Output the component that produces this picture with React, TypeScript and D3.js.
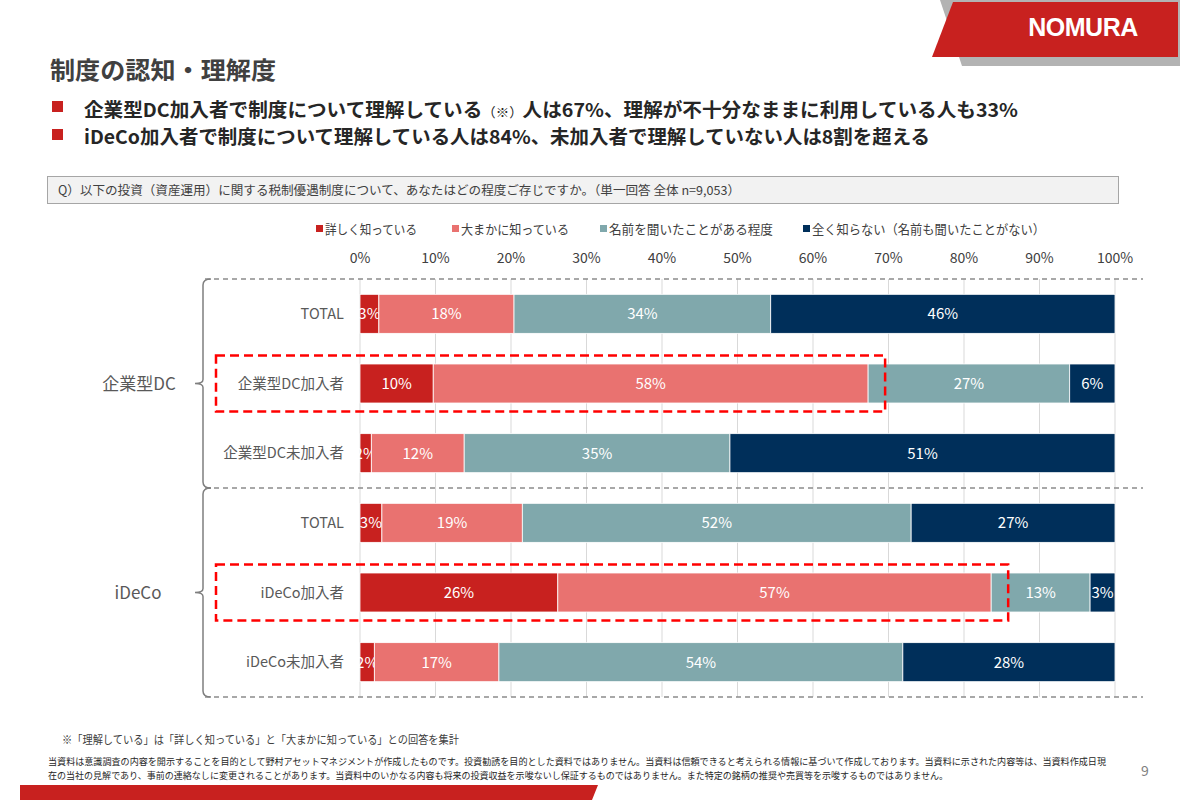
import React from "react";
import * as d3 from "d3";

const rowLabels = ["TOTAL", "企業型DC加入者", "企業型DC未加入者", "TOTAL", "iDeCo加入者", "iDeCo未加入者"];
const groupLabels = ["企業型DC", "iDeCo"];
const seriesNames = ["詳しく知っている", "大まかに知っている", "名前を聞いたことがある程度", "全く知らない（名前も聞いたことがない）"];
const seriesColors = ["#c8211f", "#e97270", "#80a8ac", "#002f5a"];
const detailed = [2.5, 9.7, 1.5, 2.9, 26.2, 1.9];
const rough = [17.9, 57.6, 12.3, 18.6, 57.4, 16.5];
const heard = [34.0, 26.7, 35.2, 51.5, 13.1, 53.5];
const unaware = [45.6, 6.0, 51.0, 27.0, 3.3, 28.1];
const tickValues = [0, 10, 20, 30, 40, 50, 60, 70, 80, 90, 100];
const highlightRows = [1, 4];

const FONT = "'Noto Sans CJK JP', 'Noto Sans', sans-serif";

export default function App() {
  const keys = ["d", "r", "h", "u"];
  const table = rowLabels.map((_, i) => ({ idx: String(i), d: detailed[i], r: rough[i], h: heard[i], u: unaware[i] }));
  const stacked = d3.stack<any>().keys(keys)(table);

  const x = d3.scaleLinear().domain([0, 100]).range([360, 1115]);
  const y = d3.scaleBand<string>().domain(table.map((t) => t.idx)).range([279, 697]).paddingInner(0.44).paddingOuter(0.22);
  const step = y.step();
  const top = 279;
  const bottom = 697;
  const mid = top + step * 3;

  const bracket = (y0: number, y1: number) => {
    const xm = 203;
    const ym = (y0 + y1) / 2;
    return `M${xm + 8},${y0} Q${xm},${y0} ${xm},${y0 + 6} L${xm},${ym - 4} Q${xm},${ym} ${xm - 8},${ym} Q${xm},${ym} ${xm},${ym + 4} L${xm},${y1 - 6} Q${xm},${y1} ${xm + 8},${y1}`;
  };

  const legendX = [316, 452, 600, 803];
  const legendW = [92, 108, 164, 233];

  return (
    <svg width={1200} height={800} style={{ position: "absolute", left: 0, top: 0, background: "#fff" }} fontFamily={FONT}>
      <rect x={0} y={0} width={1200} height={800} fill="#fff" />
      {/* logo */}
      <polygon points="940,0 1180,0 1180,66 962,66" fill="#b3b3b3" />
      <polygon points="953,2 1178,2 1178,57 932,57" fill="#c8211f" />
      <text x={1083} y={36} fill="#fff" fontSize={25} fontWeight={700} textAnchor="middle" fontFamily="'Liberation Sans', Arial, sans-serif" letterSpacing={-0.5}>NOMURA</text>

      {/* title */}
      <text x={50} y={79} fontSize={24} fontWeight={700} fill="#404040" textLength={226} lengthAdjust="spacingAndGlyphs">制度の認知・理解度</text>
      <rect x={52} y={101} width={11} height={11} fill="#c8211f" />
      <text x={84} y={117} fontSize={19} fontWeight={700} fill="#262626" textLength={934} lengthAdjust="spacingAndGlyphs">
        企業型DC加入者で制度について理解している<tspan fontSize={13} fontWeight={400}>（※）</tspan>人は67%、理解が不十分なままに利用している人も33%
      </text>
      <rect x={52} y={129} width={11} height={11} fill="#c8211f" />
      <text x={84} y={144} fontSize={19} fontWeight={700} fill="#262626" textLength={846} lengthAdjust="spacingAndGlyphs">
        iDeCo加入者で制度について理解している人は84%、未加入者で理解していない人は8割を超える
      </text>

      {/* question box */}
      <rect x={47.5} y={176.5} width={1071} height={27} fill="#f2f2f2" stroke="#a6a6a6" strokeWidth={1} />
      <text x={58} y={195} fontSize={12.5} fill="#404040" textLength={682} lengthAdjust="spacingAndGlyphs">
        Q）以下の投資（資産運用）に関する税制優遇制度について、あなたはどの程度ご存じですか。（単一回答 全体 n=9,053）
      </text>

      {/* legend */}
      {seriesNames.map((name, i) => (
        <g key={name}>
          <rect x={legendX[i]} y={225} width={7} height={7} fill={seriesColors[i]} />
          <text x={legendX[i] + 9} y={234} fontSize={13} fill="#404040" textLength={legendW[i]} lengthAdjust="spacingAndGlyphs">{name}</text>
        </g>
      ))}

      {/* axis tick labels */}
      {tickValues.map((t) => (
        <text key={t} x={x(t)} y={263} fontSize={14} fill="#404040" textAnchor="middle">{t}%</text>
      ))}

      {/* gridlines */}
      {tickValues.map((t) => (
        <line key={"g" + t} x1={x(t)} x2={x(t)} y1={top} y2={bottom} stroke="#d9d9d9" strokeWidth={1} />
      ))}

      {/* dashed separators */}
      {[top, mid, bottom].map((yy, i) => (
        <line key={"s" + i} x1={205} x2={1143} y1={yy} y2={yy} stroke="#8c8c8c" strokeWidth={1.5} strokeDasharray="5,4" />
      ))}

      {/* brackets */}
      <path d={bracket(top, mid)} fill="none" stroke="#7f7f7f" strokeWidth={1.5} />
      <path d={bracket(mid, bottom)} fill="none" stroke="#7f7f7f" strokeWidth={1.5} />
      <text x={139} y={(top + mid) / 2 + 6} fontSize={17} fill="#595959" textAnchor="middle">{groupLabels[0]}</text>
      <text x={138} y={(mid + bottom) / 2 + 6} fontSize={17} fill="#595959" textAnchor="middle">{groupLabels[1]}</text>

      {/* row labels */}
      {table.map((t, i) => (
        <text key={"l" + i} x={344} y={(y(t.idx) as number) + y.bandwidth() / 2 + 5} fontSize={14.5} fill="#595959" textAnchor="end">{rowLabels[i]}</text>
      ))}

      {/* bars */}
      {stacked.map((layer, li) => (
        <g key={layer.key}>
          {layer.map((seg, i) => {
            const y0 = y(String(i)) as number;
            const x0 = x(seg[0]);
            const x1 = x(seg[1]);
            return (
              <g key={i}>
                <rect x={x0} y={y0} width={x1 - x0} height={y.bandwidth()} fill={seriesColors[li]} stroke="#fff" strokeWidth={0.8} />
                <text x={(x0 + x1) / 2} y={y0 + y.bandwidth() / 2 + 5.5} fontSize={15} fill="#fff" textAnchor="middle">
                  {Math.round(seg[1] - seg[0])}%
                </text>
              </g>
            );
          })}
        </g>
      ))}

      {/* highlight boxes */}
      {highlightRows.map((r) => {
        const y0 = y(String(r)) as number;
        const xr = x(detailed[r] + rough[r]) + 17;
        return (
          <rect key={"h" + r} x={216} y={y0 - 8.5} width={xr - 216} height={y.bandwidth() + 17} fill="none" stroke="#ff0000" strokeWidth={2.5} strokeDasharray="9,5" />
        );
      })}

      {/* footnotes */}
      <text x={62} y={744} fontSize={11.5} fill="#404040" textLength={397} lengthAdjust="spacingAndGlyphs">※「理解している」は「詳しく知っている」と「大まかに知っている」との回答を集計</text>
      <text x={48} y={765} fontSize={9.2} fill="#262626" textLength={1058} lengthAdjust="spacingAndGlyphs">
        当資料は意識調査の内容を開示することを目的として野村アセットマネジメントが作成したものです。投資勧誘を目的とした資料ではありません。当資料は信頼できると考えられる情報に基づいて作成しております。当資料に示された内容等は、当資料作成日現
      </text>
      <text x={48} y={779} fontSize={9.2} fill="#262626" textLength={900} lengthAdjust="spacingAndGlyphs">
        在の当社の見解であり、事前の連絡なしに変更されることがあります。当資料中のいかなる内容も将来の投資収益を示唆ないし保証するものではありません。また特定の銘柄の推奨や売買等を示唆するものではありません。
      </text>
      <text x={1145} y={776} fontSize={14} fill="#7f7f7f" textAnchor="middle">9</text>
      <polygon points="20,785 598,785 592,800 20,800" fill="#c8211f" />
    </svg>
  );
}
